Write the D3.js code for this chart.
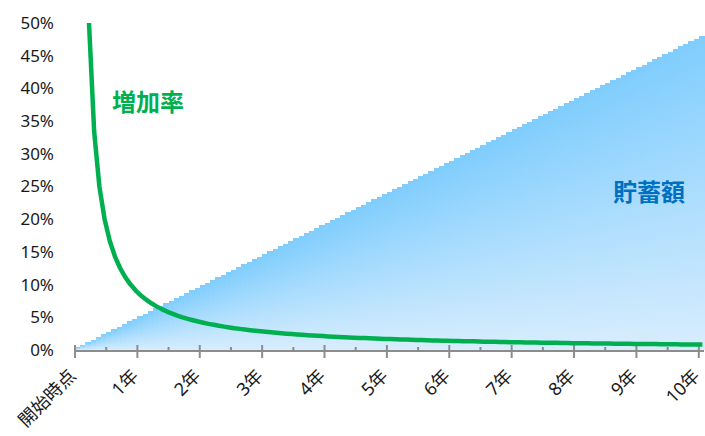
<!DOCTYPE html>
<meta charset="utf-8">
<script src="https://cdn.jsdelivr.net/npm/d3@7"></script>
<html>
<head>
<style>
body { margin: 0; background: #fff; }
text { font-family: "Noto Sans", "Noto Sans CJK JP", sans-serif; }
</style>
</head>
<body>
<div id="chart"></div>
<script>

// 月ごとの積立回数 (開始時点=1, 以後毎月+1)
var savings = [1,2,3,4,5,6,7,8,9,10,11,12,13,14,15,16,17,18,19,20,
  21,22,23,24,25,26,27,28,29,30,31,32,33,34,35,36,37,38,39,40,
  41,42,43,44,45,46,47,48,49,50,51,52,53,54,55,56,57,58,59,60,
  61,62,63,64,65,66,67,68,69,70,71,72,73,74,75,76,77,78,79,80,
  81,82,83,84,85,86,87,88,89,90,91,92,93,94,95,96,97,98,99,100,
  101,102,103,104,105,106,107,108,109,110,111,112,113,114,115,116,117,118,119,120,121];

// 増加率 (%), 開始時点は無し
var rate = [null,100,50,33.33,25,20,16.67,14.29,12.5,11.11,10,9.09,8.33,7.69,7.14,6.67,6.25,5.88,5.56,5.26,
  5,4.76,4.55,4.35,4.17,4,3.85,3.7,3.57,3.45,3.33,3.23,3.13,3.03,2.94,2.86,2.78,2.7,2.63,2.56,
  2.5,2.44,2.38,2.33,2.27,2.22,2.17,2.13,2.08,2.04,2,1.96,1.92,1.89,1.85,1.82,1.79,1.75,1.72,1.69,
  1.67,1.64,1.61,1.59,1.56,1.54,1.52,1.49,1.47,1.45,1.43,1.41,1.39,1.37,1.35,1.33,1.32,1.3,1.28,1.27,
  1.25,1.23,1.22,1.2,1.19,1.18,1.16,1.15,1.14,1.12,1.11,1.1,1.09,1.08,1.06,1.05,1.04,1.03,1.02,1.01,
  1,0.99,0.98,0.97,0.96,0.95,0.94,0.93,0.93,0.92,0.91,0.9,0.89,0.88,0.88,0.87,0.86,0.85,0.85,0.84,0.83];

var yTicks = [0,5,10,15,20,25,30,35,40,45,50];
var yearLabels = ["開始時点","1年","2年","3年","4年","5年","6年","7年","8年","9年","10年"];

var width = 705, height = 436;
var pLeft = 75, pRight = 704, pTop = 23, pBottom = 350;

var svg = d3.select("#chart").append("svg")
    .attr("width", width)
    .attr("height", height);

var months = d3.range(savings.length);

var x = d3.scaleBand()
    .domain(months)
    .range([pLeft, pRight])
    .padding(0);
var step = x.step();

var y = d3.scaleLinear().domain([0, 50]).range([pBottom, pTop]);
// 貯蓄額は目盛りなしの第2軸
var ys = d3.scaleLinear().domain([0, 126]).range([pBottom, pTop]);

var defs = svg.append("defs");
var grad = defs.append("linearGradient")
    .attr("id", "blueGrad")
    .attr("x1", 0).attr("y1", 0).attr("x2", 0).attr("y2", 1);
grad.append("stop").attr("offset", "0%").attr("stop-color", "#7fcdfd");
grad.append("stop").attr("offset", "100%").attr("stop-color", "#d8edfd");

defs.append("clipPath").attr("id", "plotClip")
  .append("rect")
    .attr("x", pLeft).attr("y", pTop)
    .attr("width", pRight - pLeft).attr("height", pBottom - pTop + 10);

// bars
svg.append("g")
  .selectAll("rect")
  .data(savings)
  .enter().append("rect")
    .attr("x", function(d, i) { return x(i); })
    .attr("y", function(d) { return ys(d); })
    .attr("width", step + 0.6)
    .attr("height", function(d) { return pBottom - ys(d); })
    .attr("fill", "url(#blueGrad)")
    .attr("shape-rendering", "crispEdges");

// y axis labels
svg.append("g")
  .selectAll("text")
  .data(yTicks)
  .enter().append("text")
    .attr("x", 54)
    .attr("y", function(d) { return y(d); })
    .attr("dy", "0.35em")
    .attr("text-anchor", "end")
    .attr("font-size", 17)
    .attr("fill", "#1a1a1a")
    .text(function(d) { return d + "%"; });

// x axis
var axis = svg.append("g");
axis.append("line")
    .attr("x1", pLeft - 1).attr("x2", pRight)
    .attr("y1", pBottom + 1).attr("y2", pBottom + 1)
    .attr("stroke", "#8c8c8c").attr("stroke-width", 2);

var tickMonths = d3.range(0, 121, 6);
axis.selectAll("line.tick")
  .data(tickMonths)
  .enter().append("line")
    .attr("class", "tick")
    .attr("x1", function(d) { return pLeft + d * step; })
    .attr("x2", function(d) { return pLeft + d * step; })
    .attr("y1", function(d) { return d % 12 == 0 ? pBottom - 5 : pBottom - 3; })
    .attr("y2", function(d) { return d % 12 == 0 ? pBottom + 8 : pBottom + 1; })
    .attr("stroke", "#8c8c8c").attr("stroke-width", 2);

axis.selectAll("text")
  .data(yearLabels)
  .enter().append("text")
    .attr("transform", function(d, i) {
      var px = pLeft + i * 12 * step + 2;
      return "translate(" + px + "," + (pBottom + 27) + ") rotate(-45)";
    })
    .attr("text-anchor", "end")
    .attr("font-size", 18)
    .attr("fill", "#1a1a1a")
    .text(function(d) { return d; });

// 増加率の線
var line = d3.line()
    .defined(function(d) { return d != null; })
    .x(function(d, i) { return x(i) + step / 2 + 1; })
    .y(function(d) { return y(d); });

svg.append("path")
    .datum(rate)
    .attr("clip-path", "url(#plotClip)")
    .attr("fill", "none")
    .attr("stroke", "#00b050")
    .attr("stroke-width", 4.5)
    .attr("stroke-linejoin", "round")
    .attr("d", line);

// ラベル
svg.append("text")
    .attr("x", 148).attr("y", 103)
    .attr("dy", "0.35em")
    .attr("text-anchor", "middle")
    .attr("font-size", 24)
    .attr("font-weight", "bold")
    .attr("fill", "#00b050")
    .text("増加率");

svg.append("text")
    .attr("x", 649).attr("y", 193)
    .attr("dy", "0.35em")
    .attr("text-anchor", "middle")
    .attr("font-size", 24)
    .attr("font-weight", "bold")
    .attr("fill", "#0070c0")
    .text("貯蓄額");

</script>
</body>
</html>
